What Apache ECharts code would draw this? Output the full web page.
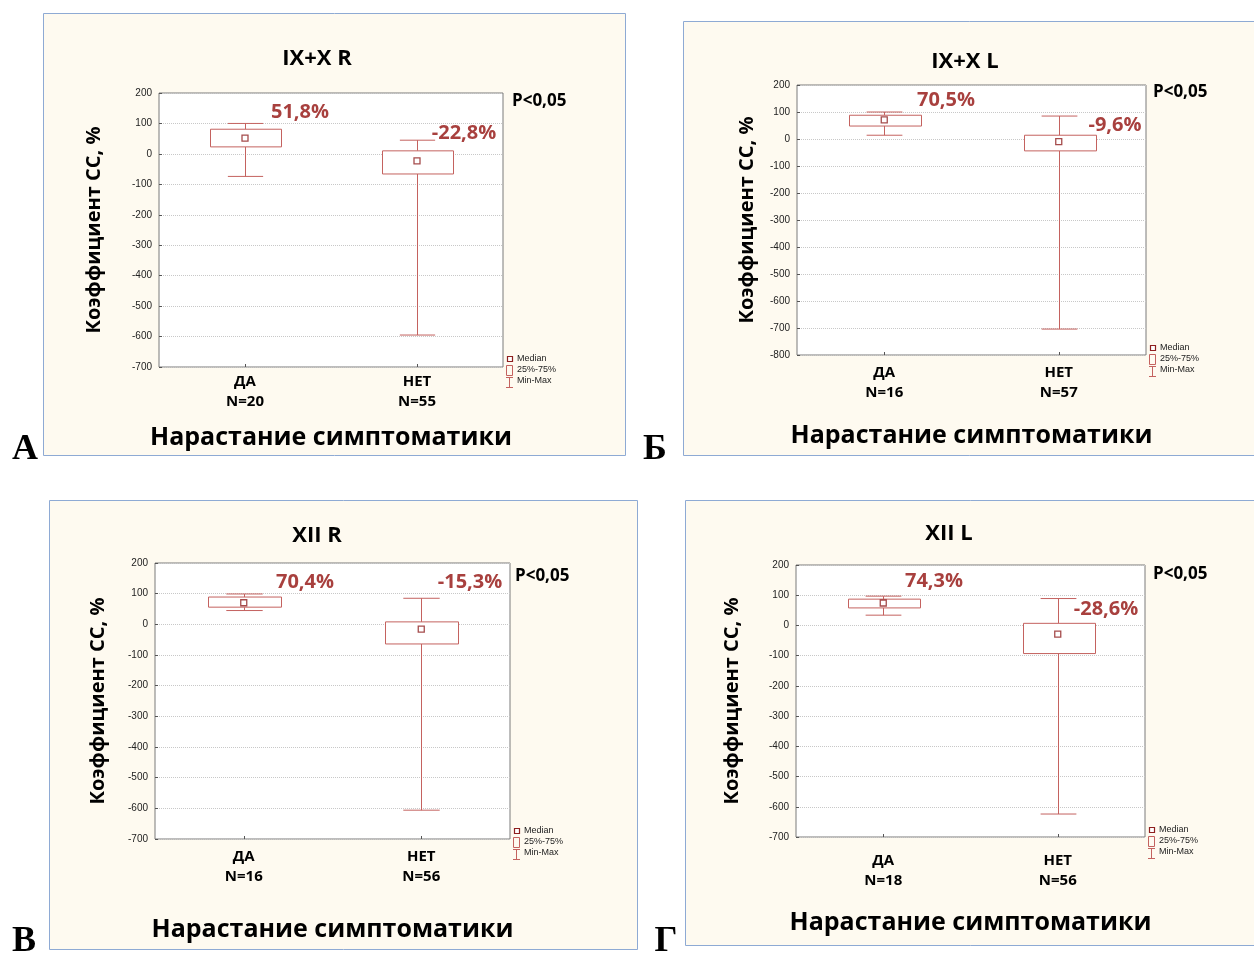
<!DOCTYPE html>
<html>
<head>
<meta charset="utf-8">
<script src="https://cdn.jsdelivr.net/npm/echarts@6/dist/echarts.min.js"></script>
<style>
  html, body { margin: 0; padding: 0; background: #fff; }
  #main { width: 1254px; height: 953px; }
</style>
</head>
<body>
<div id="main"></div>
<script>
// data
var categories = ['ДА', 'НЕТ'];
var panelTitles = ['IX+X R', 'IX+X L', 'XII R', 'XII L'];
var panelLetters = ['А', 'Б', 'В', 'Г'];
var groupN = [[20, 55], [16, 57], [16, 56], [18, 56]];
// [min, q1, median, q3, max]
var statsDa  = [[-74, 23, 51.8, 81, 100], [14, 48, 70.5, 88, 100], [45, 56, 70.4, 89, 99], [34, 58, 74.3, 87, 97]];
var statsNet = [[-595, -66, -22.8, 10, 45], [-704, -44, -9.6, 14, 85], [-606, -64, -15.3, 8, 85], [-624, -93, -28.6, 7, 89]];
var medianText = [['51,8%', '-22,8%'], ['70,5%', '-9,6%'], ['70,4%', '-15,3%'], ['74,3%', '-28,6%']];
var yMin = [-700, -800, -700, -700];
var yMax = 200;
var pText = 'P<0,05';
var xTitle = 'Нарастание симптоматики';
var yTitle = 'Коэффициент СС, %';
var legendNames = ['Median', '25%-75%', 'Min-Max'];

// layout of each panel, page pixels
var layouts = [
  {box: [43, 13, 582, 442], grid: {left: 159, top: 93, width: 344, height: 274}, title: [317, 59], yGap: 55, xGap: 58, catMargin: 5,
   p: [512, 101], legend: [506, 354], labels: [[300, 112], [464, 133]], letter: [25, 450]},
  {box: [683, 21, 580, 434], grid: {left: 797, top: 85, width: 349, height: 270}, title: [965, 62], yGap: 40, xGap: 68, catMargin: 8,
   p: [1153, 92], legend: [1149, 343], labels: [[946, 100], [1115, 125]], letter: [655, 450]},
  {box: [49, 500, 588, 449], grid: {left: 155, top: 563, width: 355, height: 276}, title: [317, 536], yGap: 47, xGap: 78, catMargin: 8,
   p: [515, 576], legend: [513, 826], labels: [[305, 582], [470, 582]], letter: [24, 942]},
  {box: [685, 500, 580, 445], grid: {left: 796, top: 565, width: 349, height: 272}, title: [949, 534], yGap: 54, xGap: 73, catMargin: 14,
   p: [1153, 574], legend: [1148, 825], labels: [[934, 581], [1106, 609]], letter: [666, 942]}
];

var boxColor = '#c4625f';
var medColor = '#8e1f1f';
var labelColor = '#a8403e';
var font = '"Open Sans", sans-serif';

function renderBox(params, api) {
  var c = api.value(0);
  var lo = api.coord([c, api.value(1)]);
  var q1 = api.coord([c, api.value(2)]);
  var q3 = api.coord([c, api.value(4)]);
  var hi = api.coord([c, api.value(5)]);
  var band = api.size([1, 0])[0];
  var bw = band * 0.41, cw = bw * 0.5;
  var cx = Math.round(lo[0]) + 0.5;
  var st = {stroke: boxColor, lineWidth: 1, fill: null};
  return {
    type: 'group',
    children: [
      {type: 'line', shape: {x1: cx, y1: hi[1], x2: cx, y2: q3[1]}, style: st},
      {type: 'line', shape: {x1: cx, y1: q1[1], x2: cx, y2: lo[1]}, style: st},
      {type: 'line', shape: {x1: cx - cw / 2, y1: hi[1], x2: cx + cw / 2, y2: hi[1]}, style: st},
      {type: 'line', shape: {x1: cx - cw / 2, y1: lo[1], x2: cx + cw / 2, y2: lo[1]}, style: st},
      {type: 'rect', shape: {x: Math.round(cx - bw / 2) + 0.5, y: q3[1], width: Math.round(bw), height: q1[1] - q3[1]},
       style: {stroke: boxColor, lineWidth: 1, fill: '#fff'}}
    ]
  };
}

var grids = [], xAxes = [], yAxes = [], series = [], graphics = [];

layouts.forEach(function (L, p) {
  // panel background
  graphics.push({type: 'rect', z: -10, shape: {x: L.box[0] + 0.5, y: L.box[1] + 0.5, width: L.box[2], height: L.box[3]},
    style: {fill: '#fefaf0', stroke: '#8eaad4', lineWidth: 1}});

  grids.push({left: L.grid.left, top: L.grid.top, width: L.grid.width, height: L.grid.height,
    show: true, backgroundColor: '#fff', borderColor: '#7a7a7a', borderWidth: 1});

  xAxes.push({
    type: 'category', gridIndex: p, data: categories,
    axisLine: {show: false, onZero: false},
    axisTick: {show: true, inside: true, alignWithLabel: true, length: 3, lineStyle: {color: '#555'}},
    axisLabel: {
      margin: L.catMargin, color: '#000', fontFamily: font, fontWeight: 'bold', fontSize: 15, lineHeight: 20,
      formatter: function (v, i) { return v + '\nN=' + groupN[p][i]; }
    },
    name: xTitle, nameLocation: 'middle', nameGap: L.xGap,
    nameTextStyle: {color: '#000', fontFamily: font, fontWeight: 'bold', fontSize: 25}
  });

  yAxes.push({
    type: 'value', gridIndex: p, min: yMin[p], max: yMax, interval: 100,
    axisLine: {show: false},
    axisTick: {show: true, inside: true, length: 3, lineStyle: {color: '#555'}},
    splitLine: {show: true, lineStyle: {color: '#c8c8c8', type: 'dotted'}},
    axisLabel: {color: '#222', fontFamily: 'Arial, "Liberation Sans"', fontSize: 10, margin: 7},
    name: yTitle, nameLocation: 'middle', nameGap: L.yGap, nameRotate: 90,
    nameTextStyle: {color: '#000', fontFamily: font, fontWeight: 'bold', fontSize: 20}
  });

  var d = [statsDa[p], statsNet[p]];
  series.push({
    type: 'custom', name: legendNames[1], xAxisIndex: p, yAxisIndex: p,
    renderItem: renderBox,
    encode: {x: 0, y: [1, 2, 3, 4, 5]},
    data: d.map(function (s, i) { return [i].concat(s); })
  });
  series.push({
    type: 'scatter', name: legendNames[0], xAxisIndex: p, yAxisIndex: p,
    symbol: 'rect', symbolSize: 6, z: 5,
    itemStyle: {color: '#fff', borderColor: medColor, borderWidth: 1.3},
    data: d.map(function (s, i) { return [i, s[2]]; })
  });

  // title, P, median labels, letter
  graphics.push({type: 'text', x: L.title[0], y: L.title[1], z: 50,
    style: {text: panelTitles[p], fill: '#000', font: 'bold 22px ' + font, align: 'center', verticalAlign: 'middle'}});
  graphics.push({type: 'text', x: L.p[0], y: L.p[1], z: 50,
    style: {text: pText, fill: '#000', font: 'bold 17px ' + font, align: 'left', verticalAlign: 'middle'}});
  L.labels.forEach(function (pos, i) {
    graphics.push({type: 'text', x: pos[0], y: pos[1], z: 50,
      style: {text: medianText[p][i], fill: labelColor, font: 'bold 20px ' + font, align: 'center', verticalAlign: 'middle'}});
  });
  graphics.push({type: 'text', x: L.letter[0], y: L.letter[1], z: 50,
    style: {text: panelLetters[p], fill: '#000', font: 'bold 36px "Liberation Serif", serif', align: 'center', verticalAlign: 'middle'}});

  // legend block
  var lx = L.legend[0], ly = L.legend[1];
  var lf = '9px Arial, "Liberation Sans"';
  graphics.push({type: 'group', x: lx, y: ly, z: 50, children: [
    {type: 'rect', shape: {x: 1.5, y: 2.5, width: 5, height: 5}, style: {fill: '#fff', stroke: medColor, lineWidth: 1.2}},
    {type: 'text', x: 11, y: 5, style: {text: legendNames[0], fill: '#222', font: lf, verticalAlign: 'middle'}},
    {type: 'rect', shape: {x: 0.5, y: 11.5, width: 6, height: 10}, style: {fill: null, stroke: boxColor, lineWidth: 1}},
    {type: 'text', x: 11, y: 16, style: {text: legendNames[1], fill: '#222', font: lf, verticalAlign: 'middle'}},
    {type: 'line', shape: {x1: 0, y1: 23.5, x2: 7, y2: 23.5}, style: {stroke: boxColor, lineWidth: 1}},
    {type: 'line', shape: {x1: 3.5, y1: 23.5, x2: 3.5, y2: 33.5}, style: {stroke: boxColor, lineWidth: 1}},
    {type: 'line', shape: {x1: 0, y1: 33.5, x2: 7, y2: 33.5}, style: {stroke: boxColor, lineWidth: 1}},
    {type: 'text', x: 11, y: 27, style: {text: legendNames[2], fill: '#222', font: lf, verticalAlign: 'middle'}}
  ]});
});

var chart = echarts.init(document.getElementById('main'));
chart.setOption({
  backgroundColor: '#fff',
  animation: false,
  grid: grids,
  xAxis: xAxes,
  yAxis: yAxes,
  series: series,
  graphic: graphics
});
</script>
</body>
</html>
